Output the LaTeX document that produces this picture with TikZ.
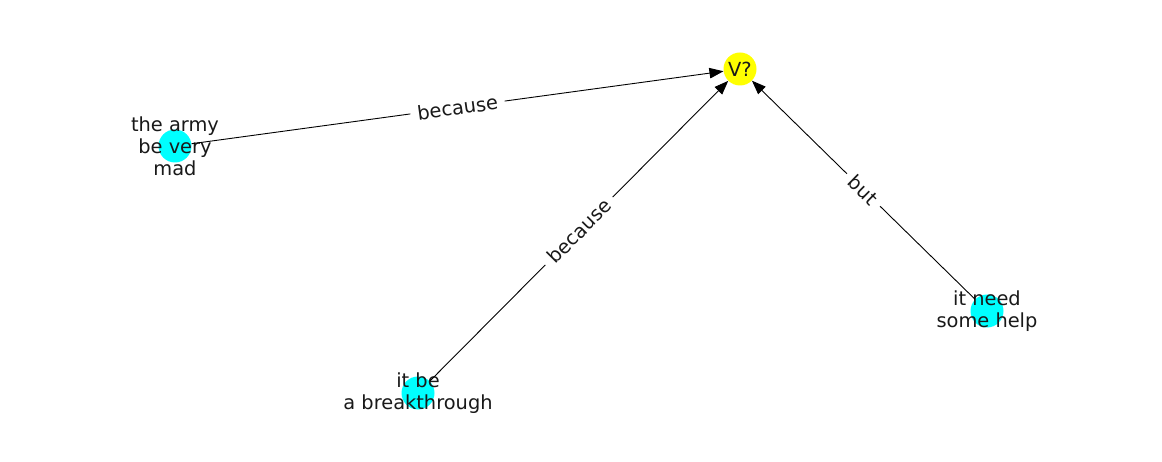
\documentclass[tikz,border=0pt]{standalone}
\usepackage{fontspec}
\setmainfont{DejaVu Sans}
\usetikzlibrary{arrows.meta}
\definecolor{argcyan}{RGB}{0,255,255}
\definecolor{relyellow}{RGB}{255,255,0}

\begin{document}
\begin{tikzpicture}[x=1pt,y=-1pt,
    every node/.style={font=\fontsize{19.4}{22}\selectfont,text=black!90},
    vertex/.style={circle,minimum size=33pt,inner sep=0pt},
    arg/.style={vertex,fill=argcyan},
    rel/.style={-{Triangle[length=14pt,width=10.5pt]},line width=0.9pt},
    rlabel/.style={fill=white,sloped,inner xsep=7pt,inner ysep=3pt}]
    \useasboundingbox (0,0) rectangle (1162,462);

    \node [vertex,fill=relyellow] (v) at (740,69) {V?};
    \node [arg,label={[align=center]center:the army\\be very\\mad}] (army) at (175,146) {};
    \node [arg,label={[align=center]center:it be\\a breakthrough}] (brk) at (418,393) {};
    \node [arg,label={[align=center]center:it need\\some help}] (help) at (987,311) {};

    \draw [rel] (army) -- node [rlabel] {because} (v);
    \draw [rel] (brk) -- node [rlabel] {because} (v);
    \draw [rel] (help) -- node [rlabel] {but} (v);
\end{tikzpicture}
\end{document}
